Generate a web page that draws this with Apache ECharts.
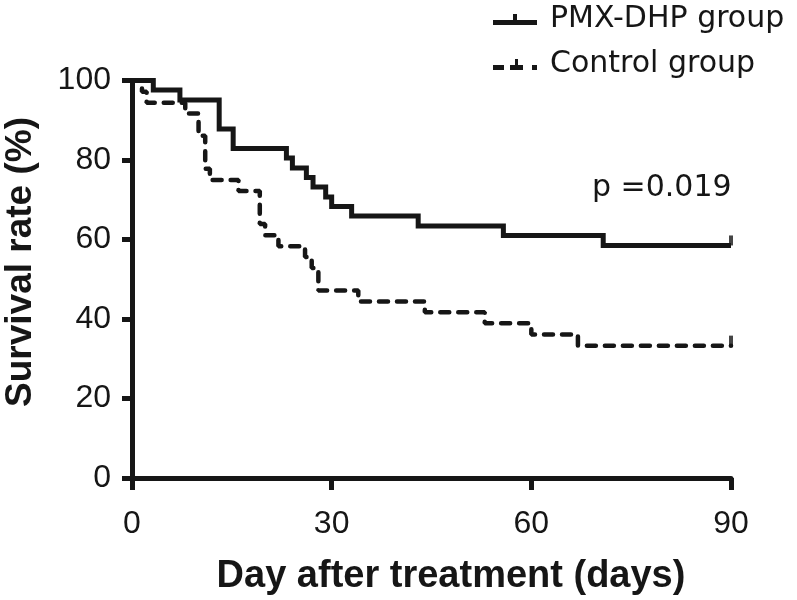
<!DOCTYPE html>
<html>
<head>
<meta charset="utf-8">
<script src="https://cdn.jsdelivr.net/npm/echarts@6/dist/echarts.min.js"></script>
<style>
html,body{margin:0;padding:0;background:#fff;}
#chart{width:797px;height:600px;}
</style>
</head>
<body>
<div id="chart"></div>
<script>
// Kaplan-Meier step data (day, survival %)
var pmxDays = [0, 3.2, 7.2, 13.1, 15.2, 23.2, 24.1, 26.2, 27.2, 29.1, 30, 33, 43, 55.8, 70.8, 90];
var pmxSurv = [100, 97.6, 95.1, 87.8, 82.9, 80.5, 78.0, 75.6, 73.2, 70.7, 68.3, 65.9, 63.4, 61.0, 58.5, 58.5];
var controlDays = [0, 1.5, 2.2, 8, 10, 11, 11.7, 16, 19.2, 20, 22, 26, 27, 28, 34, 44, 53, 60, 67, 90];
var controlSurv = [100, 97.2, 94.4, 91.7, 86.1, 77.8, 75, 72.2, 63.9, 61.1, 58.3, 55.6, 52.8, 47.2, 44.4, 41.7, 38.9, 36.1, 33.3, 33.3];
// censored observations at end of follow-up
var pmxCensorDays = [90];
var pmxCensorSurv = [58.5];
var controlCensorDays = [90];
var controlCensorSurv = [33.3];

var xTicks = [0, 30, 60, 90];
var yTicks = [0, 20, 40, 60, 80, 100];
var seriesNames = ['PMX-DHP group', 'Control group'];
var pText = 'p =0.019';
var xTitle = 'Day after treatment (days)';
var yTitle = 'Survival rate (%)';

function zip(a, b) { return a.map(function (v, i) { return [v, b[i]]; }); }

var INK = '#161616';
var tickFont = "'Liberation Sans', Arial, sans-serif";
var legFont = "'DejaVu Sans', sans-serif";

// legend icons: line with a small upward censor tick (44 x 11 box)
var solidIcon = 'path://M0,6L20,6L20,0L24,0L24,6L44,6L44,11L0,11Z';
var dashedIcon = 'path://M0,6L11,6L11,11L0,11Z M17,6L22,6L22,0L25,0L25,6L30,6L30,11L17,11Z M39,6L44,6L44,11L39,11Z';

var chart = echarts.init(document.getElementById('chart'), null, {renderer: 'canvas'});

chart.setOption({
  animation: false,
  backgroundColor: '#fff',
  grid: {left: 132, right: 66, top: 80.5, bottom: 122, containLabel: false},
  legend: {
    data: [{name: seriesNames[0], icon: solidIcon}, {name: seriesNames[1], icon: dashedIcon}],
    orient: 'vertical',
    left: 493,
    top: 3,
    padding: 0,
    itemWidth: 44,
    itemHeight: 11,
    itemGap: 12,
    itemStyle: {color: INK},
    textStyle: {fontFamily: legFont, fontSize: 30, color: INK, lineHeight: 33, padding: [0, 0, 0, 8]}
  },
  xAxis: {
    type: 'value', min: 0, max: 90, interval: 30,
    axisLine: {show: true, lineStyle: {color: INK, width: 5}},
    axisTick: {show: true, length: 12, lineStyle: {color: INK, width: 5}},
    axisLabel: {margin: 30, fontFamily: tickFont, fontSize: 32, color: INK,
      formatter: function (v) { return xTicks.indexOf(v) >= 0 ? String(v) : ''; }},
    splitLine: {show: false}
  },
  yAxis: {
    type: 'value', min: 0, max: 100, interval: 20,
    axisLine: {show: true, lineStyle: {color: INK, width: 5}},
    axisTick: {show: true, length: 10, lineStyle: {color: INK, width: 5}},
    axisLabel: {margin: 21, fontFamily: tickFont, fontSize: 32, color: INK,
      formatter: function (v) { return yTicks.indexOf(v) >= 0 ? String(v) : ''; }},
    splitLine: {show: false}
  },
  graphic: [
    {type: 'text', left: 592, top: 173, style: {text: pText, font: "30px 'DejaVu Sans', sans-serif", fill: INK}},
    {type: 'text', x: 451, y: 577, style: {text: xTitle, font: "bold 38px 'Liberation Sans', Arial, sans-serif", fill: INK, align: 'center', verticalAlign: 'middle'}},
    {type: 'text', x: 21, y: 262, rotation: Math.PI / 2, style: {text: yTitle, font: "bold 37px 'Liberation Sans', Arial, sans-serif", fill: INK, align: 'center', verticalAlign: 'middle'}}
  ],
  series: [
    {
      name: seriesNames[0], type: 'line', step: 'end',
      data: zip(pmxDays, pmxSurv),
      showSymbol: false, symbol: 'none',
      itemStyle: {color: INK},
      lineStyle: {color: INK, width: 5, cap: 'butt', join: 'miter'},
      z: 3
    },
    {
      name: seriesNames[1], type: 'line', step: 'end',
      data: zip(controlDays, controlSurv),
      showSymbol: false, symbol: 'none',
      itemStyle: {color: INK},
      lineStyle: {color: INK, width: 4.5, type: [9, 9], cap: 'round'},
      z: 2
    },
    {
      type: 'scatter', data: zip(pmxCensorDays, pmxCensorSurv),
      symbol: 'rect', symbolSize: [4, 10], symbolOffset: [0, -5], itemStyle: {color: INK}, z: 4
    },
    {
      type: 'scatter', data: zip(controlCensorDays, controlCensorSurv),
      symbol: 'rect', symbolSize: [4, 10], symbolOffset: [0, -5], itemStyle: {color: INK}, z: 4
    }
  ]
});
</script>
</body>
</html>
